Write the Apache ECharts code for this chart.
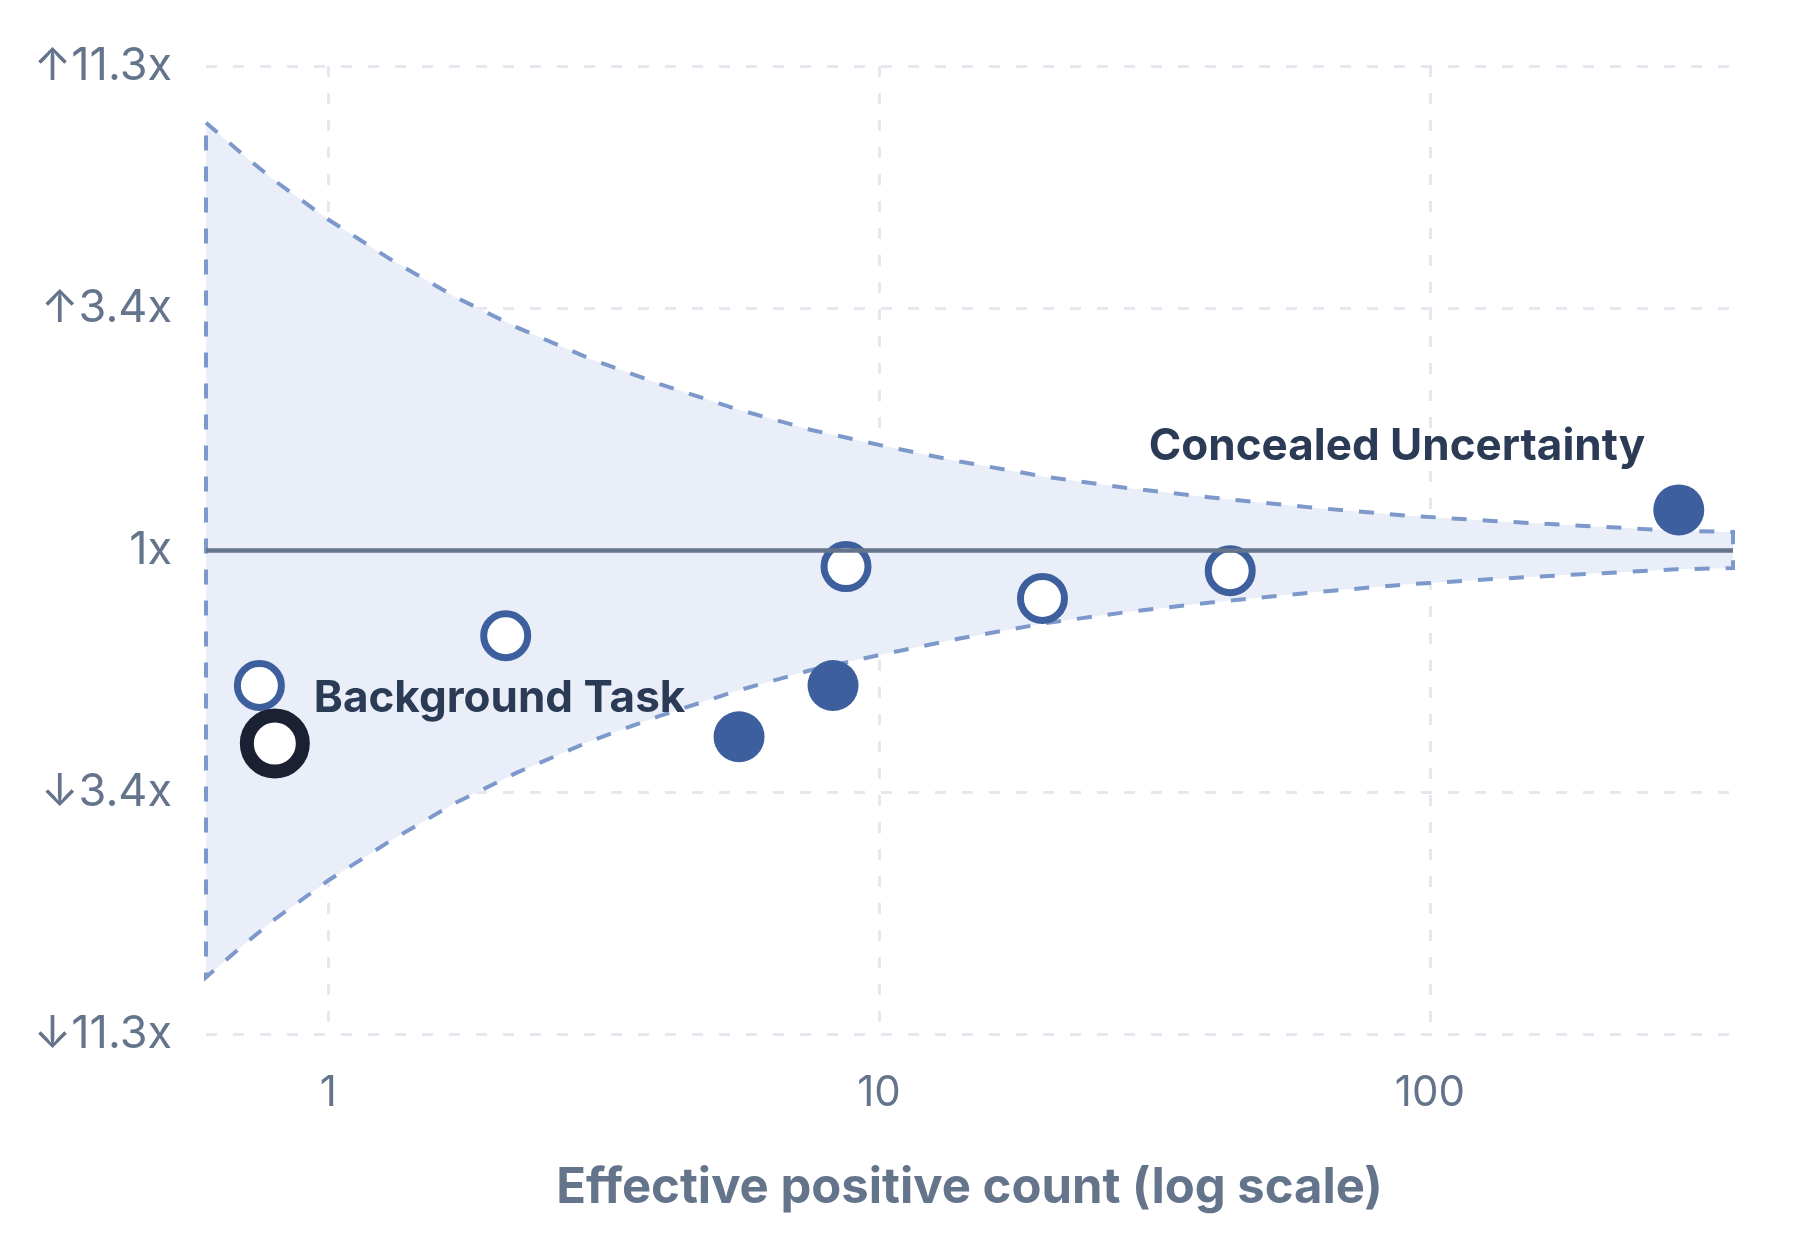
<!DOCTYPE html>
<html>
<head>
<meta charset="utf-8">
<script src="https://cdn.jsdelivr.net/npm/echarts@6/dist/echarts.min.js"></script>
<style>
  html, body { margin: 0; padding: 0; background: #fff; }
  #chart { width: 1796px; height: 1242px; }
</style>
</head>
<body>
<div id="chart"></div>
<script>
// x range of the effective positive count (log axis)
const countMin = 0.6;
const countMax = 355;

// y axis: log2 of the ratio
const yTickValues = [-3.5, -1.75, 0, 1.75, 3.5];
const yTickLabels = ['↓11.3x', '↓3.4x', '1x', '↑3.4x', '↑11.3x'];

// funnel band
const funnelN     = [0.6, 0.7, 0.8, 1, 1.3, 1.7, 2.2, 3, 4, 5.5, 7.5, 10, 14, 20, 28, 40, 60, 90, 130, 200, 280, 355];
const funnelUpper = [3.09, 2.86, 2.67, 2.39, 2.10, 1.83, 1.61, 1.38, 1.20, 1.02, 0.87, 0.76, 0.64, 0.53, 0.45, 0.38, 0.31, 0.25, 0.21, 0.17, 0.14, 0.13];
const funnelLower = [-3.09, -2.86, -2.67, -2.39, -2.10, -1.83, -1.61, -1.38, -1.20, -1.02, -0.87, -0.76, -0.64, -0.53, -0.45, -0.38, -0.31, -0.25, -0.21, -0.17, -0.14, -0.13];

// tasks
const countN     = [0.75, 0.80, 2.10, 5.57, 8.25, 8.71, 19.8, 43.4, 283];
const logRatio   = [-0.98, -1.40, -0.62, -1.35, -0.98, -0.12, -0.35, -0.15, 0.29];
const pointKind  = ['open', 'focus', 'open', 'filled', 'filled', 'open', 'open', 'open', 'filled'];
const pointLabel = ['', 'Background Task', '', '', '', '', '', '', 'Concealed Uncertainty'];

const FONT = 'Inter, "Noto Sans", sans-serif';
const BLUE = '#3d5f9d';

const kindStyle = {
    open:   { symbolSize: 44, itemStyle: { color: '#fff', borderColor: BLUE, borderWidth: 7, opacity: 1 } },
    filled: { symbolSize: 51, itemStyle: { color: BLUE, borderWidth: 0, opacity: 1 } },
    focus:  { symbolSize: 56, itemStyle: { color: '#fff', borderColor: '#1b2032', borderWidth: 14, opacity: 1 } }
};

const labelPlace = {
    'Background Task':       { position: 'right', distance: 4, offset: [0, -45] },
    'Concealed Uncertainty': { position: 'left', distance: 8, offset: [0, -63] }
};

const points = countN.map(function (n, i) {
    const k = kindStyle[pointKind[i]];
    const item = {
        value: [n, logRatio[i]],
        symbolSize: k.symbolSize,
        itemStyle: k.itemStyle
    };
    if (pointLabel[i]) {
        const p = labelPlace[pointLabel[i]];
        item.label = {
            show: true,
            formatter: pointLabel[i],
            position: p.position,
            distance: p.distance,
            offset: p.offset,
            color: '#2b3a55',
            opacity: 1,
            fontFamily: FONT,
            fontWeight: 'bold',
            fontSize: 44
        };
    }
    return item;
});

const gridLine = { show: true, lineStyle: { color: '#e5e8ef', width: 3, type: [11, 16] } };

const chart = echarts.init(document.getElementById('chart'));

chart.setOption({
    animation: false,
    grid: { left: 206, right: 63, top: 66, bottom: 208, containLabel: false },
    xAxis: {
        type: 'log',
        logBase: 10,
        min: countMin,
        max: countMax,
        name: 'Effective positive count (log scale)',
        nameLocation: 'middle',
        nameGap: 130,
        nameTextStyle: { color: '#64748b', fontFamily: FONT, fontWeight: 'bold', fontSize: 49 },
        axisLine: { show: false },
        axisTick: { show: false },
        axisLabel: {
            color: '#64748b', fontFamily: FONT, fontSize: 42, margin: 38,
            showMinLabel: false, showMaxLabel: false
        },
        splitLine: Object.assign({ showMinLine: false, showMaxLine: false }, gridLine)
    },
    yAxis: {
        type: 'value',
        min: -3.5,
        max: 3.5,
        interval: 1.75,
        axisLine: { show: false },
        axisTick: { show: false },
        axisLabel: {
            color: '#64748b', fontFamily: FONT, fontSize: 45, margin: 34,
            formatter: function (v) {
                const i = yTickValues.findIndex(t => Math.abs(t - v) < 1e-6);
                return i >= 0 ? yTickLabels[i] : '';
            }
        },
        splitLine: gridLine
    },
    series: [
        {
            type: 'custom',
            z: 1,
            silent: true,
            data: funnelN.map((n, i) => [n, funnelUpper[i], funnelLower[i]]),
            encode: { x: 0, y: [1, 2] },
            renderItem: function (params, api) {
                if (params.dataIndex !== 0) {
                    return;
                }
                const pts = [];
                for (let i = 0; i < funnelN.length; i++) {
                    pts.push(api.coord([funnelN[i], funnelUpper[i]]));
                }
                for (let i = funnelN.length - 1; i >= 0; i--) {
                    pts.push(api.coord([funnelN[i], funnelLower[i]]));
                }
                return {
                    type: 'polygon',
                    shape: { points: pts },
                    style: { fill: '#eaeef8', stroke: '#7d99cb', lineWidth: 4, lineDash: [15, 16] }
                };
            },
            markLine: {
                silent: true,
                symbol: 'none',
                label: { show: false },
                lineStyle: { color: '#64748b', width: 4.5, type: 'solid', opacity: 1 },
                data: [{ yAxis: 0 }]
            }
        },
        {
            type: 'scatter',
            z: 3,
            data: points
        }
    ]
});
</script>
</body>
</html>
